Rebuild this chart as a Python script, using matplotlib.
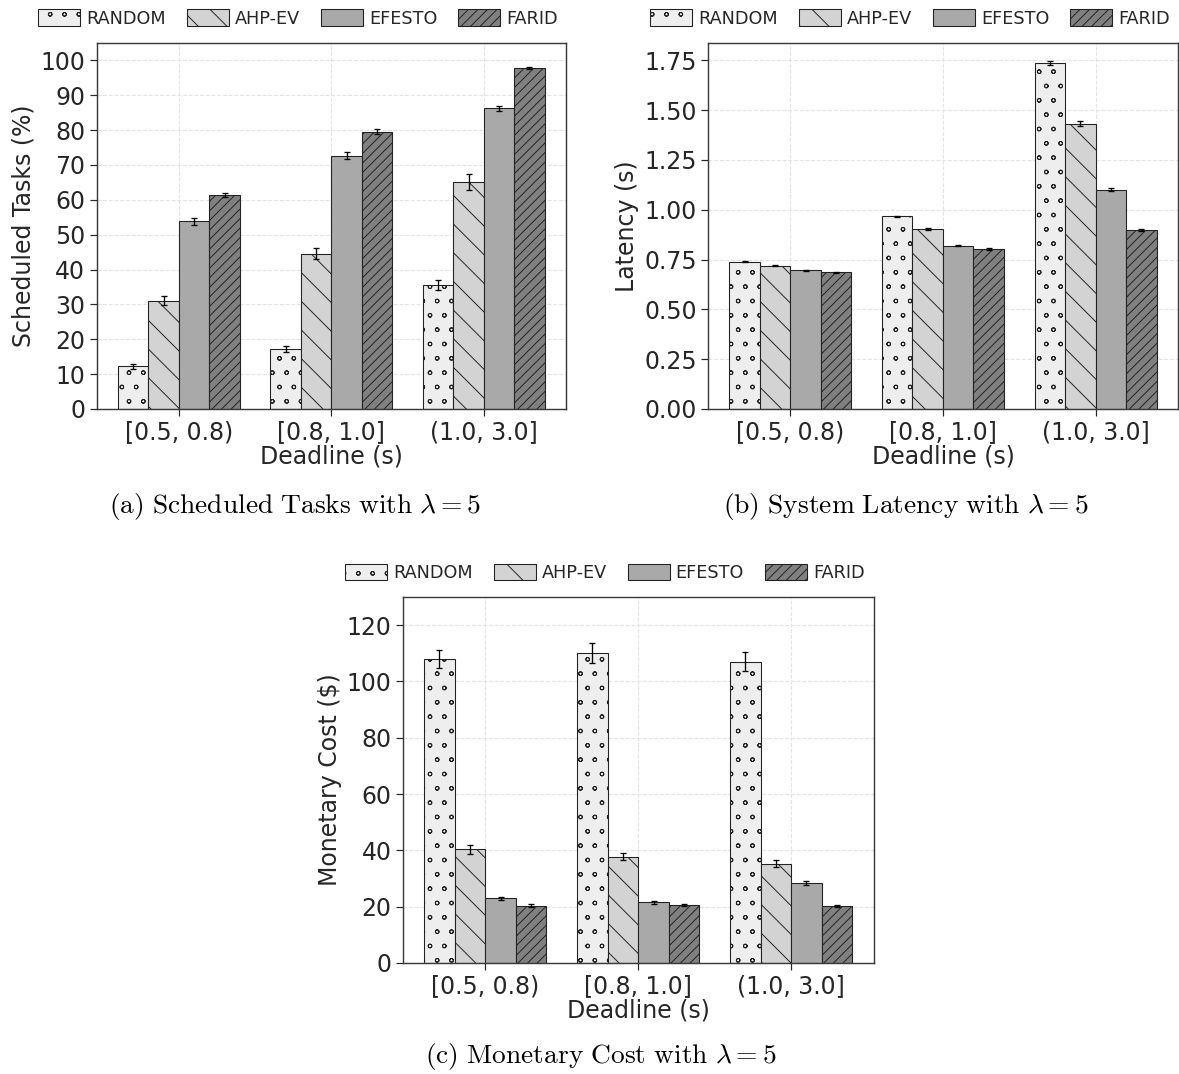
import numpy as np
import matplotlib
matplotlib.use("Agg")
import matplotlib.pyplot as plt
import matplotlib.hatch as mhatch

deadlines = ["[0.5, 0.8)", "[0.8, 1.0]", "(1.0, 3.0]"]
methods = ["RANDOM", "AHP-EV", "EFESTO", "FARID"]
colors = ["#eeeeee", "#d3d3d3", "#a9a9a9", "#808080"]
hatches = ["o", "\\", "", "///"]

# scheduled tasks (%), rows = methods, cols = deadline ranges
tasks = [[12.3, 17.2, 35.5],
         [31.0, 44.5, 65.1],
         [53.8, 72.7, 86.2],
         [61.4, 79.6, 97.7]]
tasks_err = [[0.7, 0.9, 1.5],
             [1.3, 1.6, 2.3],
             [1.0, 0.9, 0.8],
             [0.7, 0.6, 0.3]]

# latency (s)
latency = [[0.740, 0.967, 1.737],
           [0.720, 0.903, 1.432],
           [0.697, 0.820, 1.100],
           [0.686, 0.802, 0.898]]
latency_err = [[0.003, 0.004, 0.012],
               [0.003, 0.004, 0.012],
               [0.003, 0.004, 0.008],
               [0.003, 0.004, 0.006]]

# monetary cost ($)
cost = [[108.0, 110.2, 107.0],
        [40.3, 37.7, 35.2],
        [23.0, 21.5, 28.4],
        [20.4, 20.5, 20.3]]
cost_err = [[3.2, 3.5, 3.3],
            [1.5, 1.3, 1.2],
            [0.6, 0.6, 0.8],
            [0.5, 0.4, 0.4]]

DPI = 86
# smaller rings for the 'o' hatch, like the original
mhatch.SmallCircles.size = 0.13
plt.rcParams["mathtext.fontset"] = "cm"
plt.rcParams["hatch.linewidth"] = 0.8
plt.rcParams["font.family"] = "DejaVu Sans"
TXT = "#262626"
FS = 19.8


def draw_panel(rect, vals, errs, ylabel, ylim, yticks, yfmt, leg_xy):
    ax = fig.add_axes(rect)
    x = np.arange(len(deadlines))
    w = 0.2
    bars = []
    for i, m in enumerate(methods):
        b = ax.bar(x + (i - 1.5) * w, vals[i], w, yerr=errs[i], color=colors[i],
                   edgecolor="#222222", linewidth=0.9, hatch=hatches[i], label=m,
                   error_kw=dict(ecolor="black", elinewidth=1.1, capsize=2.6, capthick=1.1))
        bars.append(b)
    ax.set_ylim(*ylim)
    ax.set_yticks(yticks)
    ax.set_yticklabels([yfmt.format(t) for t in yticks])
    ax.set_xticks(x)
    ax.set_xticklabels(deadlines)
    ax.set_xlabel("Deadline (s)", fontsize=FS, color=TXT, labelpad=0)
    ax.set_ylabel(ylabel, fontsize=FS, color=TXT, labelpad=4)
    ax.tick_params(labelsize=FS, colors=TXT, length=5.5, width=1.0, pad=4)
    ax.grid(True, linestyle="--", color="#e3e3e3", linewidth=0.9)
    ax.set_axisbelow(True)
    for s in ax.spines.values():
        s.set_color("#3a3a3a")
        s.set_linewidth(1.2)
    fig.legend(handles=bars, labels=methods, loc="center", bbox_to_anchor=leg_xy,
               ncol=4, frameon=False, fontsize=14.8, handlelength=2.37,
               handleheight=1.07, handletextpad=0.34, columnspacing=1.19,
               borderpad=0, labelcolor=TXT)
    return ax


fig = plt.figure(figsize=(1179 / DPI, 1074 / DPI), dpi=DPI)

draw_panel([0.0820, 0.6192, 0.3981, 0.3408], tasks, tasks_err, "Scheduled Tasks (%)",
           (0, 105), np.arange(0, 101, 10), "{:.0f}", (0.2528, 0.9828))
draw_panel([0.6005, 0.6192, 0.3986, 0.3408], latency, latency_err, "Latency (s)",
           (0, 1.8375), np.arange(0, 1.76, 0.25), "{:.2f}", (0.7718, 0.9828))
draw_panel([0.3416, 0.1034, 0.3995, 0.3408], cost, cost_err, "Monetary Cost ($)",
           (0, 130), np.arange(0, 121, 20), "{:.0f}", (0.513, 0.4665))

cap = dict(ha="center", va="center", fontsize=23, color="black")
fig.text(295 / 1179, 1 - 507 / 1074, r"$\mathrm{(a)\ Scheduled\ Tasks\ with\ }\lambda = 5$", **cap)
fig.text(906 / 1179, 1 - 507 / 1074, r"$\mathrm{(b)\ System\ Latency\ with\ }\lambda = 5$", **cap)
fig.text(601 / 1179, 1 - 1057 / 1074, r"$\mathrm{(c)\ Monetary\ Cost\ with\ }\lambda = 5$", **cap)

fig.savefig("out.png", dpi=DPI)
